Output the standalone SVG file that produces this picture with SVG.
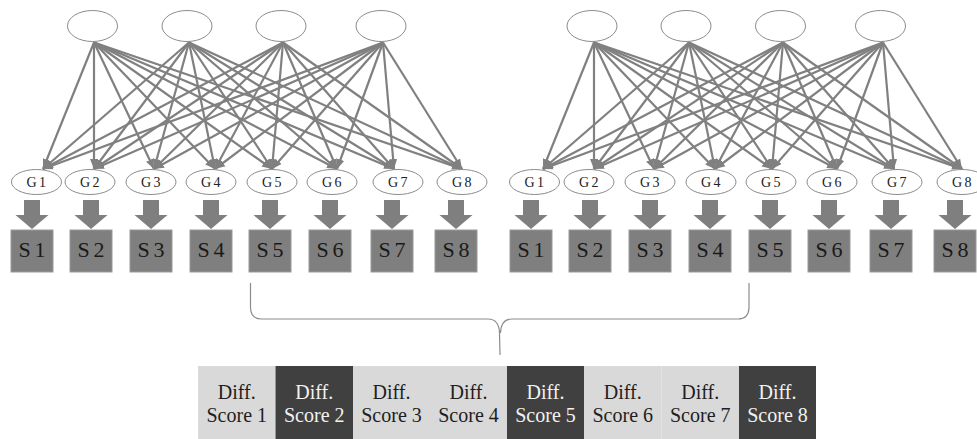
<svg xmlns="http://www.w3.org/2000/svg" width="977" height="439" viewBox="0 0 977 439">
<defs>
<style>
.top{fill:#fff;stroke:#8c8c8c;stroke-width:1}
.g{fill:#fff;stroke:#8c8c8c;stroke-width:1}
.gt{font-family:"Liberation Serif","DejaVu Serif",serif;font-size:14px;fill:#222;text-anchor:middle;letter-spacing:2.5px}
.blk{fill:#7f7f7f}
.s{fill:#7f7f7f;stroke:#9a9a9a;stroke-width:1}
.st{font-family:"Liberation Serif","DejaVu Serif",serif;font-size:22px;fill:#1a1a1a;text-anchor:middle;letter-spacing:4px}
.c line{stroke:#808080;stroke-width:2.2;marker-end:url(#ah)}
.lt{fill:#d9d9d9}
.dk{fill:#404040}
.dt{font-family:"Liberation Serif","DejaVu Serif",serif;font-size:20px;text-anchor:middle}
.dl{fill:#1e1e1e}
.dd{fill:#f2f2f2}
.brace{fill:none;stroke:#8c8c8c;stroke-width:1.2}
</style>
<marker id="ah" markerUnits="userSpaceOnUse" markerWidth="10" markerHeight="10" viewBox="0 0 10 10" refX="10" refY="5" orient="auto">
<path d="M0,1 L10,5 L0,9 Z" fill="#808080"/>
</marker>
</defs>
<rect width="977" height="439" fill="#fff"/>

<g id="connectors" class="c">
<!-- left group -->
<line x1="94" y1="42.5" x2="43" y2="169"/><line x1="94" y1="42.5" x2="94" y2="169"/><line x1="94" y1="42.5" x2="154" y2="169"/><line x1="94" y1="42.5" x2="215" y2="169"/><line x1="94" y1="42.5" x2="272" y2="169"/><line x1="94" y1="42.5" x2="337" y2="169"/><line x1="94" y1="42.5" x2="394" y2="169"/><line x1="94" y1="42.5" x2="462" y2="169"/>
<line x1="189" y1="42.5" x2="43" y2="169"/><line x1="189" y1="42.5" x2="94" y2="169"/><line x1="189" y1="42.5" x2="154" y2="169"/><line x1="189" y1="42.5" x2="215" y2="169"/><line x1="189" y1="42.5" x2="272" y2="169"/><line x1="189" y1="42.5" x2="337" y2="169"/><line x1="189" y1="42.5" x2="394" y2="169"/><line x1="189" y1="42.5" x2="462" y2="169"/>
<line x1="283" y1="42.5" x2="43" y2="169"/><line x1="283" y1="42.5" x2="94" y2="169"/><line x1="283" y1="42.5" x2="154" y2="169"/><line x1="283" y1="42.5" x2="215" y2="169"/><line x1="283" y1="42.5" x2="272" y2="169"/><line x1="283" y1="42.5" x2="337" y2="169"/><line x1="283" y1="42.5" x2="394" y2="169"/><line x1="283" y1="42.5" x2="462" y2="169"/>
<line x1="383" y1="42.5" x2="43" y2="169"/><line x1="383" y1="42.5" x2="94" y2="169"/><line x1="383" y1="42.5" x2="154" y2="169"/><line x1="383" y1="42.5" x2="215" y2="169"/><line x1="383" y1="42.5" x2="272" y2="169"/><line x1="383" y1="42.5" x2="337" y2="169"/><line x1="383" y1="42.5" x2="394" y2="169"/><line x1="383" y1="42.5" x2="462" y2="169"/>
<!-- right group -->
<line x1="594" y1="42.5" x2="543" y2="169"/><line x1="594" y1="42.5" x2="594" y2="169"/><line x1="594" y1="42.5" x2="654" y2="169"/><line x1="594" y1="42.5" x2="715" y2="169"/><line x1="594" y1="42.5" x2="772" y2="169"/><line x1="594" y1="42.5" x2="837" y2="169"/><line x1="594" y1="42.5" x2="894" y2="169"/><line x1="594" y1="42.5" x2="962" y2="169"/>
<line x1="689" y1="42.5" x2="543" y2="169"/><line x1="689" y1="42.5" x2="594" y2="169"/><line x1="689" y1="42.5" x2="654" y2="169"/><line x1="689" y1="42.5" x2="715" y2="169"/><line x1="689" y1="42.5" x2="772" y2="169"/><line x1="689" y1="42.5" x2="837" y2="169"/><line x1="689" y1="42.5" x2="894" y2="169"/><line x1="689" y1="42.5" x2="962" y2="169"/>
<line x1="783" y1="42.5" x2="543" y2="169"/><line x1="783" y1="42.5" x2="594" y2="169"/><line x1="783" y1="42.5" x2="654" y2="169"/><line x1="783" y1="42.5" x2="715" y2="169"/><line x1="783" y1="42.5" x2="772" y2="169"/><line x1="783" y1="42.5" x2="837" y2="169"/><line x1="783" y1="42.5" x2="894" y2="169"/><line x1="783" y1="42.5" x2="962" y2="169"/>
<line x1="883" y1="42.5" x2="543" y2="169"/><line x1="883" y1="42.5" x2="594" y2="169"/><line x1="883" y1="42.5" x2="654" y2="169"/><line x1="883" y1="42.5" x2="715" y2="169"/><line x1="883" y1="42.5" x2="772" y2="169"/><line x1="883" y1="42.5" x2="837" y2="169"/><line x1="883" y1="42.5" x2="894" y2="169"/><line x1="883" y1="42.5" x2="962" y2="169"/>
</g>

<!-- top latent nodes -->
<g id="L1"><ellipse class="top" cx="92.5" cy="26" rx="25" ry="15.5"/></g>
<g id="L2"><ellipse class="top" cx="187" cy="26" rx="25" ry="15.5"/></g>
<g id="L3"><ellipse class="top" cx="281" cy="26" rx="25" ry="15.5"/></g>
<g id="L4"><ellipse class="top" cx="381" cy="26" rx="25" ry="15.5"/></g>
<g id="R1"><ellipse class="top" cx="592" cy="26" rx="25" ry="15.5"/></g>
<g id="R2"><ellipse class="top" cx="686" cy="26" rx="25" ry="15.5"/></g>
<g id="R3"><ellipse class="top" cx="780.5" cy="26" rx="25" ry="15.5"/></g>
<g id="R4"><ellipse class="top" cx="880.5" cy="26" rx="25" ry="15.5"/></g>

<!-- left G nodes -->
<g id="LG1"><ellipse class="g" cx="36.5" cy="182" rx="25" ry="12.5"/><text class="gt" x="37.5" y="186.5">G1</text></g>
<g id="LG2"><ellipse class="g" cx="90" cy="182" rx="25" ry="12.5"/><text class="gt" x="91" y="186.5">G2</text></g>
<g id="LG3"><ellipse class="g" cx="151" cy="182" rx="25" ry="12.5"/><text class="gt" x="152" y="186.5">G3</text></g>
<g id="LG4"><ellipse class="g" cx="211" cy="182" rx="25" ry="12.5"/><text class="gt" x="212" y="186.5">G4</text></g>
<g id="LG5"><ellipse class="g" cx="272" cy="182" rx="25" ry="12.5"/><text class="gt" x="273" y="186.5">G5</text></g>
<g id="LG6"><ellipse class="g" cx="332" cy="182" rx="25" ry="12.5"/><text class="gt" x="333" y="186.5">G6</text></g>
<g id="LG7"><ellipse class="g" cx="398" cy="182" rx="25" ry="12.5"/><text class="gt" x="399" y="186.5">G7</text></g>
<g id="LG8"><ellipse class="g" cx="462" cy="182" rx="25" ry="12.5"/><text class="gt" x="463" y="186.5">G8</text></g>
<!-- right G nodes -->
<g id="RG1"><ellipse class="g" cx="534.5" cy="182" rx="25" ry="12.5"/><text class="gt" x="535.5" y="186.5">G1</text></g>
<g id="RG2"><ellipse class="g" cx="589" cy="182" rx="25" ry="12.5"/><text class="gt" x="590" y="186.5">G2</text></g>
<g id="RG3"><ellipse class="g" cx="650" cy="182" rx="25" ry="12.5"/><text class="gt" x="651" y="186.5">G3</text></g>
<g id="RG4"><ellipse class="g" cx="711" cy="182" rx="25" ry="12.5"/><text class="gt" x="712" y="186.5">G4</text></g>
<g id="RG5"><ellipse class="g" cx="771" cy="182" rx="25" ry="12.5"/><text class="gt" x="772" y="186.5">G5</text></g>
<g id="RG6"><ellipse class="g" cx="832" cy="182" rx="25" ry="12.5"/><text class="gt" x="833" y="186.5">G6</text></g>
<g id="RG7"><ellipse class="g" cx="897" cy="182" rx="25" ry="12.5"/><text class="gt" x="898" y="186.5">G7</text></g>
<g id="RG8"><ellipse class="g" cx="962" cy="182" rx="25" ry="12.5"/><text class="gt" x="963" y="186.5">G8</text></g>

<!-- block arrows -->
<g id="block-arrows" class="blk">
<polygon points="24,200 40,200 40,215 48.5,215 32,229 15.5,215 24,215"/>
<polygon points="83,200 99,200 99,215 107.5,215 91,229 74.5,215 83,215"/>
<polygon points="143,200 159,200 159,215 167.5,215 151,229 134.5,215 143,215"/>
<polygon points="203,200 219,200 219,215 227.5,215 211,229 194.5,215 203,215"/>
<polygon points="262,200 278,200 278,215 286.5,215 270,229 253.5,215 262,215"/>
<polygon points="322,200 338,200 338,215 346.5,215 330,229 313.5,215 322,215"/>
<polygon points="384,200 400,200 400,215 408.5,215 392,229 375.5,215 384,215"/>
<polygon points="448,200 464,200 464,215 472.5,215 456,229 439.5,215 448,215"/>
<polygon points="523,200 539,200 539,215 547.5,215 531,229 514.5,215 523,215"/>
<polygon points="582,200 598,200 598,215 606.5,215 590,229 573.5,215 582,215"/>
<polygon points="642,200 658,200 658,215 666.5,215 650,229 633.5,215 642,215"/>
<polygon points="702,200 718,200 718,215 726.5,215 710,229 693.5,215 702,215"/>
<polygon points="762,200 778,200 778,215 786.5,215 770,229 753.5,215 762,215"/>
<polygon points="821,200 837,200 837,215 845.5,215 829,229 812.5,215 821,215"/>
<polygon points="883,200 899,200 899,215 907.5,215 891,229 874.5,215 883,215"/>
<polygon points="947,200 963,200 963,215 971.5,215 955,229 938.5,215 947,215"/>
</g>

<!-- left S nodes -->
<g id="LS1"><rect class="s" x="11" y="230" width="42" height="42"/><text class="st" x="34" y="257">S1</text></g>
<g id="LS2"><rect class="s" x="70" y="230" width="42" height="42"/><text class="st" x="93" y="257">S2</text></g>
<g id="LS3"><rect class="s" x="130" y="230" width="42" height="42"/><text class="st" x="153" y="257">S3</text></g>
<g id="LS4"><rect class="s" x="190" y="230" width="42" height="42"/><text class="st" x="213" y="257">S4</text></g>
<g id="LS5"><rect class="s" x="249" y="230" width="42" height="42"/><text class="st" x="272" y="257">S5</text></g>
<g id="LS6"><rect class="s" x="309" y="230" width="42" height="42"/><text class="st" x="332" y="257">S6</text></g>
<g id="LS7"><rect class="s" x="371" y="230" width="42" height="42"/><text class="st" x="394" y="257">S7</text></g>
<g id="LS8"><rect class="s" x="435" y="230" width="42" height="42"/><text class="st" x="458" y="257">S8</text></g>
<!-- right S nodes -->
<g id="RS1"><rect class="s" x="510" y="230" width="42" height="42"/><text class="st" x="533" y="257">S1</text></g>
<g id="RS2"><rect class="s" x="569" y="230" width="42" height="42"/><text class="st" x="592" y="257">S2</text></g>
<g id="RS3"><rect class="s" x="629" y="230" width="42" height="42"/><text class="st" x="652" y="257">S3</text></g>
<g id="RS4"><rect class="s" x="689" y="230" width="42" height="42"/><text class="st" x="712" y="257">S4</text></g>
<g id="RS5"><rect class="s" x="749" y="230" width="42" height="42"/><text class="st" x="772" y="257">S5</text></g>
<g id="RS6"><rect class="s" x="808" y="230" width="42" height="42"/><text class="st" x="831" y="257">S6</text></g>
<g id="RS7"><rect class="s" x="870" y="230" width="42" height="42"/><text class="st" x="893" y="257">S7</text></g>
<g id="RS8"><rect class="s" x="934" y="230" width="42" height="42"/><text class="st" x="957" y="257">S8</text></g>

<!-- brace -->
<g id="brace">
<path class="brace" d="M250.5,283 L250.5,308 Q251,319 262,319 L488,319 Q499,319 499.5,333 L500,355"/>
<path class="brace" d="M749,283 L749,308 Q748.5,319 738,319 L512,319 Q501,319 500.5,333"/>
</g>

<!-- difference scores -->
<g id="D1"><rect class="lt" x="198" y="366" width="77.5" height="73"/><text class="dt dl" x="236.75" y="399">Diff.</text><text class="dt dl" x="236.75" y="422">Score 1</text></g>
<g id="D2"><rect class="dk" x="275.5" y="366" width="77.5" height="73"/><text class="dt dd" x="314.25" y="399">Diff.</text><text class="dt dd" x="314.25" y="422">Score 2</text></g>
<g id="D3"><rect class="lt" x="353" y="366" width="77" height="73"/><text class="dt dl" x="391.5" y="399">Diff.</text><text class="dt dl" x="391.5" y="422">Score 3</text></g>
<g id="D4"><rect class="lt" x="430" y="366" width="77" height="73"/><text class="dt dl" x="468.5" y="399">Diff.</text><text class="dt dl" x="468.5" y="422">Score 4</text></g>
<g id="D5"><rect class="dk" x="507" y="366" width="77" height="73"/><text class="dt dd" x="545.5" y="399">Diff.</text><text class="dt dd" x="545.5" y="422">Score 5</text></g>
<g id="D6"><rect class="lt" x="584" y="366" width="77.5" height="73"/><text class="dt dl" x="622.75" y="399">Diff.</text><text class="dt dl" x="622.75" y="422">Score 6</text></g>
<g id="D7"><rect class="lt" x="661.5" y="366" width="77.5" height="73"/><text class="dt dl" x="700.25" y="399">Diff.</text><text class="dt dl" x="700.25" y="422">Score 7</text></g>
<g id="D8"><rect class="dk" x="739" y="366" width="77" height="73"/><text class="dt dd" x="777.5" y="399">Diff.</text><text class="dt dd" x="777.5" y="422">Score 8</text></g>
</svg>
